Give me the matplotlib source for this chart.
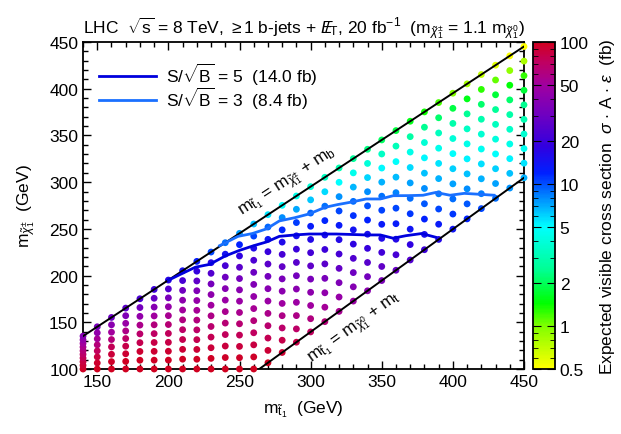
import numpy as np
import matplotlib
matplotlib.use('Agg')
import matplotlib.pyplot as plt
from matplotlib.colors import LinearSegmentedColormap, LogNorm
from matplotlib.ticker import MultipleLocator, FixedLocator, NullFormatter

plt.rcParams['font.family'] = ['Liberation Sans', 'DejaVu Sans']
plt.rcParams['mathtext.fontset'] = 'custom'
plt.rcParams['mathtext.rm'] = 'Liberation Sans'
plt.rcParams['mathtext.it'] = 'Liberation Sans:italic'
plt.rcParams['mathtext.sf'] = 'Liberation Sans'

m_b = 4.8
m_t = 173.0
ratio = 1.1
fs = 12.5

# scan columns (stop mass) and number of chargino points per column
stop_cols = [140, 150, 160, 170, 180, 190, 200, 210, 220, 230, 240, 250, 260, 270, 280, 290,
             300, 310, 320, 330, 340, 350, 360, 370, 380, 390, 400, 410, 420, 430, 440, 450]
n_per_col = [10, 8, 8, 9, 9, 10, 11, 11, 12, 12, 12, 13, 13, 13, 13, 12,
             12, 11, 11, 11, 11, 11, 10, 10, 10, 10, 10, 10, 10, 10, 10, 10]

# visible cross section (bulk, vs chargino mass)
sig_mass = [100, 120, 140, 160, 180, 200, 220, 240, 260, 280, 300, 320, 340, 360, 380, 400, 420, 445]
sig_bulk = [105, 90, 72, 56, 43, 32, 23, 16, 12, 9.3, 7.2, 5.6, 4.4, 3.4, 2.6, 1.8, 1.3, 0.9]
# reduction close to the kinematic edge (stop - chargino mass difference)
dm_read = [4.8, 10, 20, 30, 40, 60]
dm_factor = [0.5, 0.58, 0.7, 0.82, 0.92, 1.0]

# contours
c5_x = [200, 208, 219, 229, 240, 250, 260, 269, 278, 289, 299, 309, 318, 329, 339, 349, 358, 367, 378, 388]
c5_y = [195, 201, 209, 212, 221, 227, 232, 236, 242, 243.5, 244.5, 244.5, 244.5, 244, 243.5, 243.5, 240, 242.7, 245, 241]
c3_x = [236, 249, 259, 269, 278, 289, 299, 310, 319, 328, 339, 349, 358, 369, 379, 388, 398, 408, 419, 429]
c3_y = [232, 242, 245, 250, 258.5, 262, 266, 273, 276, 278.5, 282, 282, 285.5, 285.6, 286, 289, 286, 288, 287, 286]

xs, ys = [], []
for x, n in zip(stop_cols, n_per_col):
    top = x - m_b
    bot = max(100.0, ratio * (x - m_t))
    for y in np.linspace(bot, top, n):
        xs.append(x)
        ys.append(y)
xs = np.array(xs, dtype=float)
ys = np.array(ys)
sig = np.exp(np.interp(ys, sig_mass, np.log(sig_bulk))) * np.interp(xs - ys, dm_read, dm_factor)

cmap = LinearSegmentedColormap.from_list('vis', [
    (0.0, '#ffff00'), (0.13, '#80ff00'), (0.2, '#00ff00'), (0.30, '#00ff90'),
    (0.435, '#00ffff'), (0.52, '#0090ff'), (0.6, '#0020ff'), (0.68, '#3000e0'),
    (0.78, '#7000c0'), (0.87, '#a000a0'), (0.94, '#c00060'), (1.0, '#d00020')])
norm = LogNorm(0.5, 100)

fig = plt.figure(figsize=(6.21, 4.35), dpi=100)
ax = fig.add_axes([0.1337, 0.1494, 0.7101, 0.7517])

sc = ax.scatter(xs, ys, c=sig, cmap=cmap, norm=norm, s=24, linewidths=0, clip_on=False, zorder=3)

lx = np.array([140, 450])
ax.plot(lx, lx - m_b, color='black', lw=1.4, zorder=4)
lx2 = np.array([100 / ratio + m_t, 450])
ax.plot(lx2, ratio * (lx2 - m_t), color='black', lw=1.4, zorder=4)

ax.plot(c5_x, c5_y, color='#0000dd', lw=2, zorder=5, label=r'S/$\sqrt{\rm B}$ = 5  (14.0 fb)')
ax.plot(c3_x, c3_y, color='#1a70ff', lw=2, zorder=5, label=r'S/$\sqrt{\rm B}$ = 3  (8.4 fb)')

ax.text(284, 300, r'm$_{\tilde{\rm t}_1}$ = m$_{\tilde{\chi}_1^{\pm}}$ + m$_{\rm b}$', fontsize=fs,
        rotation=45, transform_rotates_text=True, rotation_mode='anchor', ha='center', va='center')
ax.text(331, 144, r'm$_{\tilde{\rm t}_1}$ = m$_{\tilde{\chi}_1^{0}}$ + m$_{\rm t}$', fontsize=fs,
        rotation=np.degrees(np.arctan(ratio)), transform_rotates_text=True, rotation_mode='anchor',
        ha='center', va='center')

ax.set_xlim(140, 450)
ax.set_ylim(100, 450)
ax.xaxis.set_major_locator(MultipleLocator(50))
ax.xaxis.set_minor_locator(MultipleLocator(10))
ax.yaxis.set_major_locator(MultipleLocator(50))
ax.yaxis.set_minor_locator(MultipleLocator(10))
ax.tick_params(which='both', direction='in', top=True, right=True, labelsize=fs)
ax.tick_params(which='major', length=6, width=1)
ax.tick_params(which='minor', length=3.5, width=1)
for s in ax.spines.values():
    s.set_linewidth(1.3)

ax.set_xlabel(r'm$_{\tilde{\rm t}_1}$  (GeV)', fontsize=fs, labelpad=7)
ax.set_ylabel(r'm$_{\tilde{\chi}_1^{\pm}}$  (GeV)', fontsize=fs, labelpad=9)
ax.set_title(r'LHC  $\sqrt{\rm s}$ = 8 TeV, $\geq$1 b-jets + $E\!\!\!/_{\rm T}$, 20 fb$^{-1}$  '
             r'(m$_{\tilde{\chi}_1^{\pm}}$ = 1.1 m$_{\tilde{\chi}_1^{0}}$)', fontsize=fs, pad=7)

leg = ax.legend(loc='upper left', frameon=False, fontsize=fs, handlelength=3.3,
                bbox_to_anchor=(0.0, 0.99), labelspacing=-0.12, handletextpad=0.6)

cax = fig.add_axes([0.858, 0.1494, 0.0354, 0.7517])
cb = fig.colorbar(sc, cax=cax)
cb.set_ticks([0.5, 1, 2, 5, 10, 20, 50, 100])
cb.set_ticklabels(['0.5', '1', '2', '5', '10', '20', '50', '100'])
cb.ax.yaxis.set_minor_locator(FixedLocator([0.6, 0.7, 0.8, 0.9, 3, 4, 6, 7, 8, 9, 30, 40, 60, 70, 80, 90]))
cb.ax.yaxis.set_minor_formatter(NullFormatter())
cb.ax.tick_params(which='both', direction='in', left=True, right=True, labelsize=fs)
cb.ax.tick_params(which='major', length=6)
cb.ax.tick_params(which='minor', length=3.5)
cb.outline.set_linewidth(1.3)
cb.set_label(r'Expected visible cross section  $\sigma$ $\cdot$ A $\cdot$ $\varepsilon$  (fb)', fontsize=fs, labelpad=7)

fig.savefig('out.png', dpi=100)
